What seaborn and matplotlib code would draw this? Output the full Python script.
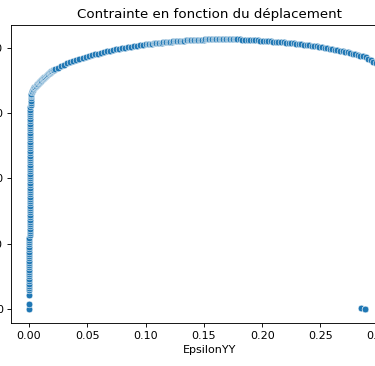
import matplotlib
matplotlib.use("Agg")
import matplotlib.pyplot as plt
import seaborn as sns
import pandas as pd

# ---- data ----
elastic_strain = [0.0000, 0.0000, 0.0001, 0.0001, 0.0001, 0.0001, 0.0002, 0.0002, 0.0002, 0.0002,
                  0.0002, 0.0002, 0.0002, 0.0003, 0.0003, 0.0003, 0.0003, 0.0003, 0.0003, 0.0003,
                  0.0004, 0.0004, 0.0004, 0.0004, 0.0004, 0.0004, 0.0004, 0.0005, 0.0005, 0.0005,
                  0.0005, 0.0005, 0.0005, 0.0005, 0.0005, 0.0006, 0.0006, 0.0006, 0.0006, 0.0006,
                  0.0006, 0.0006, 0.0007, 0.0007, 0.0007, 0.0007, 0.0007, 0.0007, 0.0007, 0.0008,
                  0.0008, 0.0008, 0.0008, 0.0008, 0.0008, 0.0008, 0.0009, 0.0009, 0.0009, 0.0009,
                  0.0009, 0.0009, 0.0009, 0.0010, 0.0010, 0.0010, 0.0010, 0.0010, 0.0010, 0.0010,
                  0.0011, 0.0011, 0.0011, 0.0011, 0.0011, 0.0011, 0.0011, 0.0012, 0.0012, 0.0012,
                  0.0012, 0.0012, 0.0012, 0.0012, 0.0013, 0.0013, 0.0013, 0.0013]
elastic_stress = [0, 7, 21, 29, 32, 36, 39, 43, 46, 50,
                  53, 57, 60, 64, 67, 71, 74, 78, 81, 85,
                  88, 92, 95, 99, 102, 106, 109, 113, 116, 120,
                  123, 127, 130, 134, 137, 141, 144, 148, 151, 155,
                  158, 162, 165, 169, 172, 176, 179, 183, 186, 190,
                  193, 197, 200, 204, 207, 211, 214, 218, 221, 225,
                  228, 232, 235, 239, 242, 246, 249, 253, 256, 260,
                  263, 267, 270, 274, 277, 281, 284, 288, 291, 295,
                  298, 302, 305, 309, 312, 316, 319, 323]

yield_strain = [0.0014, 0.0017, 0.0020, 0.0024, 0.0028, 0.0032, 0.0037, 0.0042, 0.0047, 0.0052,
                0.0057, 0.0062, 0.0067, 0.0072, 0.0077, 0.0082, 0.0087, 0.0092, 0.0097, 0.0102,
                0.0107, 0.0112, 0.0117, 0.0122, 0.0127, 0.0132, 0.0137, 0.0142, 0.0147, 0.0152,
                0.0157, 0.0162, 0.0167, 0.0172, 0.0177, 0.0182, 0.0187, 0.0192, 0.0197, 0.0202,
                0.0207, 0.0212]
yield_stress = [326, 328, 330, 332, 334, 335.5, 337, 338, 339.2, 340.2,
                341.2, 342.2, 343.2, 344.2, 345.2, 346.2, 347.1, 348, 348.9, 349.8,
                350.7, 351.6, 352.5, 353.4, 354.3, 355.1, 355.9, 356.7, 357.5, 358.3,
                359.1, 359.9, 360.6, 361.3, 362, 362.7, 363.4, 364.1, 364.8, 365.4,
                366, 366.6]

hardening_strain = [0.0225, 0.0251, 0.0277, 0.0303, 0.0329, 0.0355, 0.0381, 0.0407, 0.0433, 0.0459,
                    0.0485, 0.0511, 0.0537, 0.0563, 0.0589, 0.0615, 0.0641, 0.0667, 0.0693, 0.0719,
                    0.0745, 0.0771, 0.0797, 0.0823, 0.0849, 0.0875, 0.0901, 0.0927, 0.0953, 0.0979,
                    0.1005]
hardening_stress = [367, 369.6, 371.9, 374.1, 376, 377.9, 379.7, 381.5, 383.1, 384.6,
                    386, 387.4, 388.8, 390, 391.1, 392.3, 393.5, 394.6, 395.6, 396.6,
                    397.5, 398.5, 399.3, 400.1, 400.9, 401.7, 402.4, 403.1, 403.8, 404.5,
                    405.1]

peak_strain = [0.1020, 0.1032, 0.1044, 0.1056, 0.1068, 0.1080, 0.1092, 0.1104, 0.1116, 0.1128,
               0.1140, 0.1152, 0.1164, 0.1176, 0.1188, 0.1200, 0.1212, 0.1224, 0.1236, 0.1248,
               0.1260, 0.1272, 0.1284, 0.1296, 0.1308, 0.1320, 0.1332, 0.1344, 0.1356, 0.1368,
               0.1380, 0.1392, 0.1404, 0.1416, 0.1428, 0.1440, 0.1452, 0.1464, 0.1476, 0.1488,
               0.1500, 0.1512, 0.1524, 0.1536, 0.1548, 0.1560, 0.1572, 0.1584, 0.1596, 0.1608,
               0.1620, 0.1632, 0.1644, 0.1656, 0.1668, 0.1680, 0.1692, 0.1704, 0.1716, 0.1728,
               0.1740, 0.1752, 0.1764, 0.1776, 0.1788]
peak_stress = [405.4, 405.7, 406, 406.3, 406.6, 406.8, 407.1, 407.4, 407.6, 407.8,
               408, 408.3, 408.5, 408.7, 408.9, 409.1, 409.3, 409.5, 409.7, 409.9,
               410.1, 410.3, 410.5, 410.6, 410.8, 410.9, 411.1, 411.2, 411.3, 411.5,
               411.6, 411.7, 411.8, 411.9, 412, 412.1, 412.2, 412.3, 412.4, 412.5,
               412.6, 412.7, 412.8, 412.9, 413, 413, 413.1, 413.1, 413.2, 413.2,
               413.3, 413.3, 413.3, 413.3, 413.3, 413.3, 413.3, 413.3, 413.2, 413.2,
               413.1, 413.1, 413, 413, 412.9]

softening_strain = [0.1809, 0.1831, 0.1853, 0.1875, 0.1897, 0.1919, 0.1941, 0.1963, 0.1985, 0.2007,
                    0.2029, 0.2051, 0.2073, 0.2095, 0.2117, 0.2139, 0.2161, 0.2183, 0.2205, 0.2227,
                    0.2249, 0.2271, 0.2293, 0.2315, 0.2337, 0.2359, 0.2381, 0.2403, 0.2425, 0.2447,
                    0.2469, 0.2491, 0.2513, 0.2535, 0.2557, 0.2579, 0.2601, 0.2623, 0.2645, 0.2667,
                    0.2689, 0.2711, 0.2733, 0.2755, 0.2777, 0.2799, 0.2821, 0.2843, 0.2865, 0.2887,
                    0.2909, 0.2931, 0.2953, 0.2975, 0.2997, 0.3019, 0.3041, 0.3063, 0.3085, 0.3107]
softening_stress = [412.8, 412.6, 412.4, 412.2, 412, 411.8, 411.6, 411.4, 411.1, 410.8,
                    410.5, 410.2, 409.9, 409.6, 409.3, 409, 408.7, 408.4, 408, 407.6,
                    407.2, 406.8, 406.4, 406, 405.5, 405, 404.5, 404, 403.4, 402.8,
                    402.2, 401.6, 401, 400.3, 399.6, 398.8, 398, 397.2, 396.4, 395.6,
                    394.8, 394, 393, 392, 391, 390, 389, 388, 387, 385.2,
                    383.3, 381.2, 379, 376.5, 373.5, 370, 366, 361.5, 356.5, 351]

rupture_strain = [0.2850, 0.2880, 0.2886]
rupture_stress = [1.5, 0.5, 0.0]

x_ticks = [0.00, 0.05, 0.10, 0.15, 0.20, 0.25, 0.30]
y_ticks = [0, 100, 200, 300, 400]

df = pd.DataFrame({
    "EpsilonYY": (elastic_strain + yield_strain + hardening_strain + peak_strain
                  + softening_strain + rupture_strain),
    "SigmaYY": (elastic_stress + yield_stress + hardening_stress + peak_stress
                + softening_stress + rupture_stress),
})

dpi = 80
fig = plt.figure(figsize=(375 / dpi, 366 / dpi), dpi=dpi)
ax = fig.add_axes([10.7 / 375, 43 / 366, 398.4 / 375, 298 / 366])
sns.scatterplot(data=df, x="EpsilonYY", y="SigmaYY", ax=ax)
ax.set_xlim(-0.0157, 0.326)
ax.set_ylim(-21.4, 434.9)
ax.set_xticks(x_ticks)
ax.set_xticklabels([f"{t:.2f}" for t in x_ticks])
ax.set_yticks(y_ticks)
ax.set_title("Contrainte en fonction du déplacement")
ax.set_xlabel("EpsilonYY")
ax.set_ylabel("SigmaYY")
fig.savefig("out.png", dpi=dpi)
